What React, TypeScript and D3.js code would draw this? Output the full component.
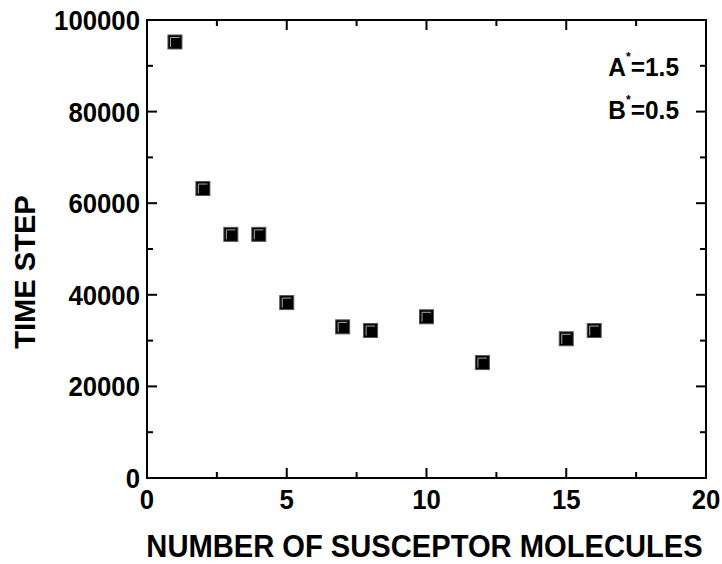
import * as d3 from "d3";
import {useEffect, useRef} from "react";

// number of susceptor molecules vs time step
const molecules = [1, 2, 3, 4, 5, 7, 8, 10, 12, 15, 16];
const timeSteps = [95200, 63200, 53200, 53200, 38300, 33000, 32200, 35200, 25200, 30400, 32200];

const xTicks = [0, 5, 10, 15, 20];
const xMinor = [2.5, 7.5, 12.5, 17.5];
const yTicks = [0, 20000, 40000, 60000, 80000, 100000];
const yMinor = [10000, 30000, 50000, 70000, 90000];

const W = 722;
const H = 564;
const FONT = "'Liberation Sans', Arial, sans-serif";

export default function App() {
    const ref = useRef<SVGSVGElement>(null);

    useEffect(() => {
        const svg = d3.select(ref.current);
        svg.selectAll("*").remove();

        const x = d3.scaleLinear().domain([0, 20]).range([147, 706]);
        const y = d3.scaleLinear().domain([0, 100000]).range([478, 20]);
        const [x0, x1] = x.range();
        const [y0, y1] = y.range();

        const g = svg.append("g").attr("stroke", "#000").attr("stroke-width", 2);

        // frame
        g.append("rect").attr("x", x0).attr("y", y1).attr("width", x1 - x0).attr("height", y0 - y1)
            .attr("fill", "none");

        // ticks on all four sides, pointing inward
        const tick = (vals: number[], len: number) => {
            vals.forEach(v => {
                g.append("line").attr("x1", x(v)).attr("x2", x(v)).attr("y1", y0).attr("y2", y0 - len);
                g.append("line").attr("x1", x(v)).attr("x2", x(v)).attr("y1", y1).attr("y2", y1 + len);
            });
        };
        const ytick = (vals: number[], len: number) => {
            vals.forEach(v => {
                g.append("line").attr("y1", y(v)).attr("y2", y(v)).attr("x1", x0).attr("x2", x0 + len);
                g.append("line").attr("y1", y(v)).attr("y2", y(v)).attr("x1", x1).attr("x2", x1 - len);
            });
        };
        tick(xTicks, 10);
        tick(xMinor, 6);
        ytick(yTicks, 10);
        ytick(yMinor, 6);

        // tick labels (slightly condensed, like the original)
        svg.append("g").selectAll("text").data(xTicks).join("text")
            .attr("transform", d => `translate(${x(d)},509) scale(0.92,1)`)
            .attr("text-anchor", "middle")
            .attr("font-family", FONT).attr("font-weight", "bold").attr("font-size", 28)
            .text(d => d);

        svg.append("g").selectAll("text").data(yTicks).join("text")
            .attr("transform", d => `translate(${x0 - 7},${y(d) + 10}) scale(0.92,1)`)
            .attr("text-anchor", "end")
            .attr("font-family", FONT).attr("font-weight", "bold").attr("font-size", 28)
            .text(d => d);

        // axis titles
        svg.append("text")
            .attr("transform", `translate(${(x0 + x1) / 2 - 2},557) scale(0.94,1)`)
            .attr("text-anchor", "middle")
            .attr("font-family", FONT).attr("font-weight", "bold").attr("font-size", 31)
            .text("NUMBER OF SUSCEPTOR MOLECULES");

        svg.append("text")
            .attr("transform", `translate(35,272) rotate(-90) scale(0.97,1)`)
            .attr("text-anchor", "middle")
            .attr("font-family", FONT).attr("font-weight", "bold").attr("font-size", 30)
            .text("TIME STEP");

        // annotations
        const note = (label: string, value: string, yy: number) => {
            const t = svg.append("text")
                .attr("transform", `translate(679,${yy}) scale(0.94,1)`)
                .attr("text-anchor", "end")
                .attr("font-family", FONT).attr("font-weight", "bold").attr("font-size", 26);
            t.append("tspan").text(label);
            t.append("tspan").attr("font-size", 13).attr("dy", -15).text("*");
            t.append("tspan").attr("dy", 15).text(value);
        };
        note("A", "=1.5", 76);
        note("B", "=0.5", 119);

        // markers
        const pts = svg.append("g").selectAll("g").data(molecules).join("g")
            .attr("transform", (d, i) => `translate(${x(d)},${y(timeSteps[i])})`);
        pts.append("rect").attr("x", -7).attr("y", -7).attr("width", 14).attr("height", 14)
            .attr("fill", "#000").attr("stroke", "#555").attr("stroke-width", 1);
        pts.append("path").attr("d", "M-4.5,5V-4.5H4.5")
            .attr("fill", "none").attr("stroke", "#aaa").attr("stroke-width", 1);
    }, []);

    return (
        <svg ref={ref} width={W} height={H}
             style={{position: "absolute", left: 0, top: 0, background: "#fff"}} />
    );
}
